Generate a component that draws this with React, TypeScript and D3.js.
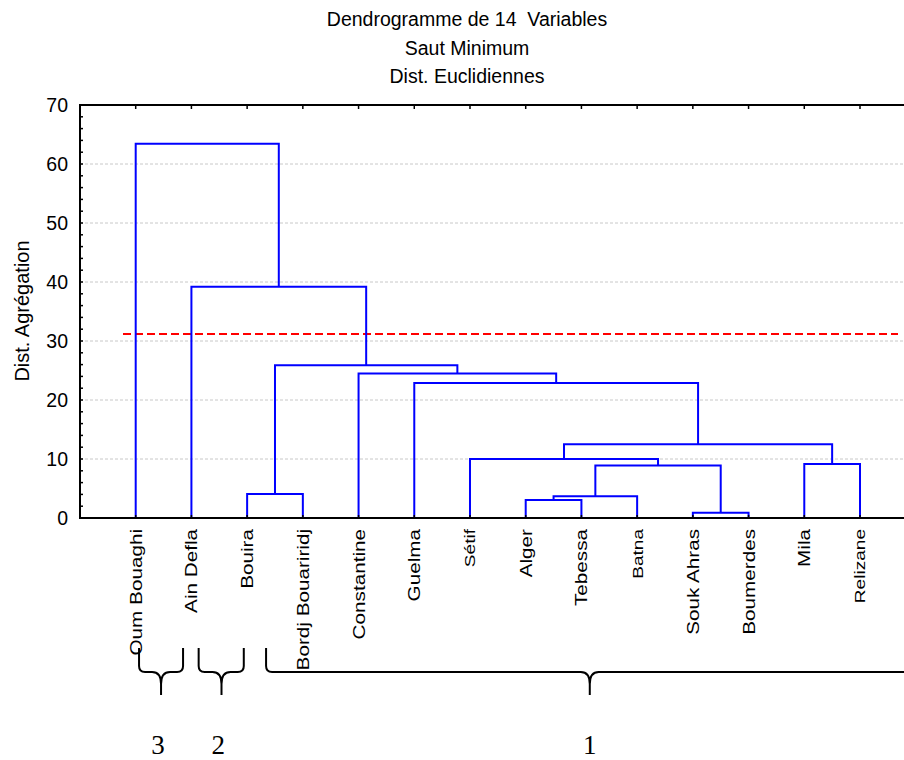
import React from "react";
import * as d3 from "d3";

// Leaves in dendrogram order
const leaves = [
  "Oum Bouaghi", "Ain Defla", "Bouira", "Bordj Bouariridj", "Constantine",
  "Guelma", "Sétif", "Alger", "Tebessa", "Batna", "Souk Ahras", "Boumerdes",
  "Mila", "Relizane",
];

// Merge steps (single linkage): ids 0..13 are leaves, each merge creates id 14, 15, ...
const mergeLeft = [10, 7, 15, 2, 16, 12, 6, 20, 5, 4, 17, 1, 0];
const mergeRight = [11, 8, 9, 3, 14, 13, 18, 19, 21, 22, 23, 24, 25];
const mergeHeight = [0.9, 3.05, 3.7, 4.07, 8.9, 9.15, 10.0, 12.5, 22.9, 24.5, 25.9, 39.2, 63.45];

const cutHeight = 31.2;
const yTicks = [0, 10, 20, 30, 40, 50, 60, 70];
const titleLines = ["Dendrogramme de 14  Variables", "Saut Minimum", "Dist. Euclidiennes"];
const yLabel = "Dist. Agrégation";
const groupLabels = ["3", "2", "1"];
const narrowLabels = new Set(["Sétif", "Batna", "Relizane"]);

const W = 904;
const H = 760;
const plotLeft = 80;
const plotTop = 105;
const plotBottom = 518;

export default function App() {
  const x = d3.scalePoint<string>().domain(leaves).range([135.7, 860]);
  const step = x.step();
  const plotRight = x(leaves[leaves.length - 1])! + step;
  const y = d3.scaleLinear().domain([0, 70]).range([plotBottom, plotTop]);

  // node positions
  const nodeX: number[] = leaves.map((l) => x(l)!);
  const nodeY: number[] = leaves.map(() => 0);
  const segs: string[] = [];
  mergeLeft.forEach((a, i) => {
    const b = mergeRight[i];
    const h = mergeHeight[i];
    const p = d3.path();
    p.moveTo(nodeX[a], y(nodeY[a]));
    p.lineTo(nodeX[a], y(h));
    p.lineTo(nodeX[b], y(h));
    p.lineTo(nodeX[b], y(nodeY[b]));
    segs.push(p.toString());
    nodeX.push((nodeX[a] + nodeX[b]) / 2);
    nodeY.push(h);
  });

  const minorTicks = d3.range(0, 70.01, 2);
  const gridTicks = yTicks.filter((t) => t > 0 && t < 70);

  // slot scale for bracket annotation below the labels
  const slot = (s: number) => x(leaves[0])! + s * step;
  const brace = (x0: number, x1: number, tip: number) => {
    const top = 648, h = 672, bottom = 695, r = 6;
    return [
      `M${x0},${top} V${h - r} Q${x0},${h} ${x0 + r},${h} H${tip - 9} Q${tip},${h} ${tip},${h + 12} V${bottom}`,
      `M${tip},${h + 12} Q${tip},${h} ${tip + 9},${h} H${x1 - r} Q${x1},${h} ${x1},${h - r} V${top}`,
    ].join(" ");
  };
  const braces = [
    { x0: slot(0.06), x1: slot(0.85), tip: slot(0.455), lx: slot(0.4) },
    { x0: slot(1.13), x1: slot(1.94), tip: slot(1.54), lx: slot(1.48) },
    { x0: slot(2.34), x1: slot(14.0), tip: slot(8.15), lx: slot(8.15) },
  ];

  const sans = "'Liberation Sans', Arial, sans-serif";

  return (
    <svg
      width={W}
      height={H}
      style={{ position: "absolute", left: 0, top: 0, background: "#fff" }}
      fontFamily={sans}
    >
      <rect x={0} y={0} width={W} height={H} fill="#fff" />
      {/* titles */}
      {titleLines.map((t, i) => (
        <text
          key={t}
          x={467}
          y={26 + i * 28.6}
          textAnchor="middle"
          fontSize={19.5}
          fill="#000"
          style={{ whiteSpace: "pre" }}
        >
          {t}
        </text>
      ))}

      {/* grid */}
      {gridTicks.map((t) => (
        <line
          key={t}
          x1={plotLeft}
          x2={plotRight}
          y1={y(t)}
          y2={y(t)}
          stroke="#c8c8c8"
          strokeWidth={1}
          strokeDasharray="3,2"
        />
      ))}

      {/* cut line */}
      <line
        x1={123}
        x2={898}
        y1={y(cutHeight)}
        y2={y(cutHeight)}
        stroke="#ff0000"
        strokeWidth={2}
        strokeDasharray="8,4"
      />

      {/* dendrogram */}
      {segs.map((d, i) => (
        <path key={i} d={d} fill="none" stroke="#0000ff" strokeWidth={2} />
      ))}

      {/* frame */}
      <line x1={plotLeft} x2={plotRight} y1={plotTop} y2={plotTop} stroke="#000" strokeWidth={2} />
      <line x1={plotLeft} x2={plotRight} y1={plotBottom} y2={plotBottom} stroke="#000" strokeWidth={2} />
      <line x1={plotLeft} x2={plotLeft} y1={plotTop - 1} y2={plotBottom + 1} stroke="#000" strokeWidth={2} />
      <line x1={plotRight} x2={plotRight} y1={plotTop} y2={plotBottom} stroke="#000" strokeWidth={2} />

      {/* y ticks */}
      {minorTicks.map((t) => (
        <line key={t} x1={plotLeft} x2={plotLeft + 3} y1={y(t)} y2={y(t)} stroke="#000" strokeWidth={1.5} />
      ))}
      {yTicks.map((t) => (
        <text key={t} x={68} y={y(t)} dy="0.35em" textAnchor="end" fontSize={19.5} fill="#000">
          {t}
        </text>
      ))}

      {/* x ticks on top and bottom */}
      {leaves.map((l) => (
        <g key={l}>
          <line x1={x(l)} x2={x(l)} y1={plotTop} y2={plotTop + 4} stroke="#000" strokeWidth={1.5} />
          <line x1={x(l)} x2={x(l)} y1={plotBottom} y2={plotBottom - 3} stroke="#000" strokeWidth={1.5} />
        </g>
      ))}

      {/* leaf labels */}
      {leaves.map((l) => (
        <text
          key={l}
          transform={`translate(${x(l)},529) rotate(-90) scale(${narrowLabels.has(l) ? "1.06,0.85" : "1.15,0.95"})`}
          dy="0.35em"
          textAnchor="end"
          fontSize={18}
          fill="#000"
        >
          {l}
        </text>
      ))}

      {/* y axis title */}
      <text
        transform={`translate(22,311) rotate(-90)`}
        dy="0.35em"
        textAnchor="middle"
        fontSize={20}
        fill="#000"
      >
        {yLabel}
      </text>

      {/* group brackets */}
      {braces.map((b, i) => (
        <g key={i}>
          <path d={brace(b.x0, b.x1, b.tip)} fill="none" stroke="#000" strokeWidth={2} />
          <text
            x={b.lx}
            y={754}
            textAnchor="middle"
            fontSize={27}
            fontFamily="'Liberation Serif', 'Times New Roman', serif"
            fill="#000"
          >
            {groupLabels[i]}
          </text>
        </g>
      ))}
    </svg>
  );
}
